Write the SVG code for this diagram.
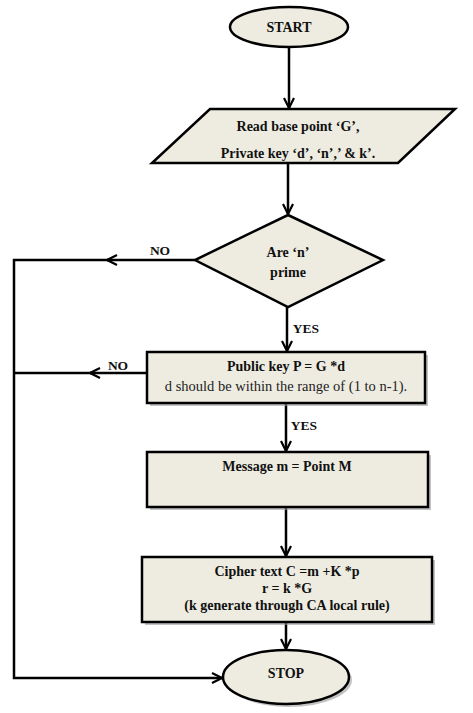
<svg xmlns="http://www.w3.org/2000/svg" width="473" height="713" viewBox="0 0 473 713">
<defs>
<style>
.shape{fill:#eeece1;stroke:#000;stroke-width:2.5}
.shadow{fill:#9a9a9a;opacity:0.6}
.t{font-family:"Liberation Serif","Times New Roman",serif;font-weight:bold;font-size:14px;fill:#111;text-anchor:middle}
.n{font-family:"Liberation Serif","Times New Roman",serif;font-size:14.5px;fill:#222;text-anchor:middle}
.lbl{font-family:"Liberation Serif","Times New Roman",serif;font-weight:bold;font-size:13.5px;fill:#111;text-anchor:middle}
.c{fill:none;stroke:#000;stroke-width:2.5}
</style>
<marker id="ah" viewBox="0 0 12 12" refX="11" refY="6" markerWidth="12" markerHeight="12" markerUnits="userSpaceOnUse" orient="auto">
<path d="M1,1 L11,6 L1,11" fill="none" stroke="#000" stroke-width="2.2"/>
</marker>
</defs>
<rect width="473" height="713" fill="#fff"/>
<g id="connectors">
<line class="c" x1="289" y1="47" x2="289" y2="108" marker-end="url(#ah)"/>
<line class="c" x1="288" y1="163" x2="288" y2="214" marker-end="url(#ah)"/>
<line class="c" x1="195" y1="260" x2="107" y2="260" marker-end="url(#ah)"/>
<polyline class="c" points="108,260 14,260 14,678 222,678" marker-end="url(#ah)"/>
<line class="c" x1="287" y1="307" x2="287" y2="351" marker-end="url(#ah)"/>
<line class="c" x1="147" y1="373" x2="90" y2="373" marker-end="url(#ah)"/>
<line class="c" x1="91" y1="373" x2="14" y2="373"/>
<line class="c" x1="286" y1="403" x2="286" y2="451" marker-end="url(#ah)"/>
<line class="c" x1="286" y1="507" x2="286" y2="556" marker-end="url(#ah)"/>
<line class="c" x1="286" y1="622" x2="286" y2="649" marker-end="url(#ah)"/>
<text class="lbl" x="160" y="255">NO</text>
<text class="lbl" x="306" y="333">YES</text>
<text class="lbl" x="118" y="370">NO</text>
<text class="lbl" x="304" y="430">YES</text>
</g>
<g id="start">
<ellipse class="shape" cx="289" cy="27" rx="59" ry="20"/>
<text class="t" x="289" y="32">START</text>
</g>
<g id="read">
<polygon class="shape" points="210,109 455,109 398,163 152,163"/>
<text class="t" x="298" y="131">Read base point ‘G’,</text>
<text class="t" x="298" y="158">Private key ‘d’, ‘n’,’ &amp; k’.</text>
</g>
<g id="decision">
<polygon class="shape" points="288,215 383,260 288,307 195,260"/>
<text class="t" x="288" y="257">Are ‘n’</text>
<text class="t" x="288" y="277">prime</text>
</g>
<g id="pubkey">
<rect class="shadow" x="150" y="355" width="278" height="51"/>
<rect class="shape" x="147" y="352" width="278" height="51"/>
<text class="t" x="286" y="371">Public key P = G *d</text>
<text class="n" x="286" y="391">d should be within the range of (1 to n-1).</text>
</g>
<g id="message">
<rect class="shadow" x="150" y="455" width="281" height="55"/>
<rect class="shape" x="147" y="452" width="281" height="55"/>
<text class="t" x="287" y="471">Message m = Point M</text>
</g>
<g id="cipher">
<rect class="shadow" x="145" y="560" width="290" height="65"/>
<rect class="shape" x="142" y="557" width="290" height="65"/>
<text class="t" x="287" y="576">Cipher text C =m +K *p</text>
<text class="t" x="287" y="593">r = k *G</text>
<text class="t" x="287" y="610">(k generate through CA local rule)</text>
</g>
<g id="stop">
<ellipse class="shadow" cx="289" cy="680" rx="63" ry="27"/>
<ellipse class="shape" cx="286" cy="677" rx="63" ry="27"/>
<text class="t" x="286" y="678">STOP</text>
</g>
</svg>
